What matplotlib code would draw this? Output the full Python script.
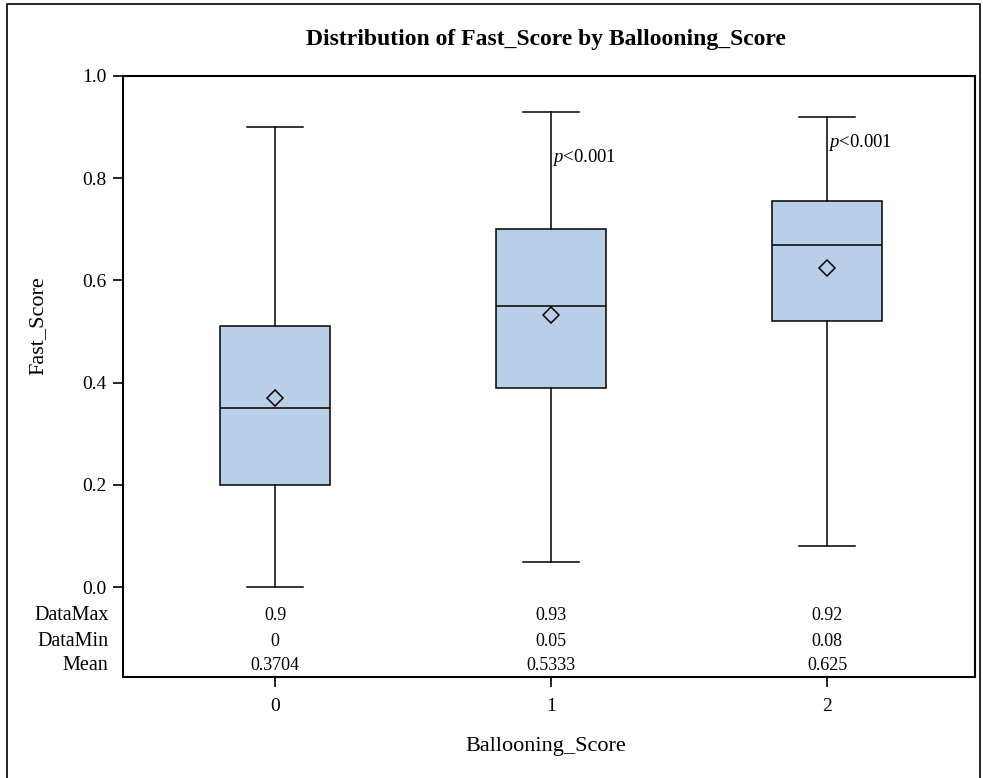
import matplotlib.pyplot as plt
import matplotlib.patches as patches

plt.rcParams['font.family'] = ['Liberation Serif', 'DejaVu Serif']
plt.rcParams['mathtext.fontset'] = 'custom'
plt.rcParams['mathtext.it'] = 'Liberation Serif:italic'
plt.rcParams['mathtext.rm'] = 'Liberation Serif'

groups = [0, 1, 2]
q1 = [0.20, 0.39, 0.52]
median = [0.35, 0.55, 0.67]
q3 = [0.51, 0.70, 0.755]
data_min = [0.0, 0.05, 0.08]
data_max = [0.90, 0.93, 0.92]
means = [0.3704, 0.5333, 0.625]
max_labels = ['0.9', '0.93', '0.92']
min_labels = ['0', '0.05', '0.08']
mean_labels = ['0.3704', '0.5333', '0.625']
p_labels = [None, '<0.001', '<0.001']
p_y = [None, 0.841, 0.869]

fig = plt.figure(figsize=(9.83, 7.78), dpi=100)
ax = fig.add_axes([123/983, 1-677/778, (975-123)/983, (677-76)/778])

stats = []
for i in range(len(groups)):
    stats.append({'med': median[i], 'q1': q1[i], 'q3': q3[i],
                  'whislo': data_min[i], 'whishi': data_max[i],
                  'mean': means[i], 'fliers': []})

ax.bxp(stats, positions=groups, widths=0.4, patch_artist=True, showmeans=True,
       boxprops=dict(facecolor='#b9cfe7', edgecolor='black', linewidth=1.1),
       medianprops=dict(color='black', linewidth=1.1),
       whiskerprops=dict(color='black', linewidth=1.1),
       capprops=dict(color='black', linewidth=1.1),
       capwidths=0.2,
       meanprops=dict(marker='D', markerfacecolor='none', markeredgecolor='black',
                      markersize=8.5, markeredgewidth=1.1))

# stats table rows inside the plot
rows = ['DataMax', 'DataMin', 'Mean']
row_y = [-0.055, -0.106, -0.154]
row_vals = [max_labels, min_labels, mean_labels]

for i, g in enumerate(groups):
    if p_labels[i]:
        ax.text(g + 0.005, p_y[i], r'$\it{p}$' + p_labels[i], fontsize=13.5,
                ha='left', va='center')
    for vals, yy in zip(row_vals, row_y):
        ax.text(g, yy, vals[i], ha='center', va='center', fontsize=13)

for lab, yy in zip(rows, row_y):
    ax.text(-0.603, yy, lab, ha='right', va='center', fontsize=14.5, clip_on=False)

ax.set_xlim(-0.551, 2.536)
ax.set_ylim(-0.176, 1.0)
ax.set_yticks([0.0, 0.2, 0.4, 0.6, 0.8, 1.0])
ax.set_yticklabels(['0.0', '0.2', '0.4', '0.6', '0.8', '1.0'])
ax.set_xticks(groups)
ax.set_xticklabels(['0', '1', '2'])
ax.tick_params(axis='y', labelsize=14, length=7, width=1.2, pad=5)
ax.tick_params(axis='x', labelsize=14, length=7, width=1.2, pad=8)
for s in ax.spines.values():
    s.set_linewidth(1.5)

ax.set_ylabel('Fast_Score', fontsize=16)
ax.yaxis.set_label_coords((38-123)/852, (677-326)/601)
ax.yaxis.label.set_va('center')
ax.set_xlabel('Ballooning_Score', fontsize=16)
ax.xaxis.set_label_coords((546-123)/852, (677-747)/601)
ax.xaxis.label.set_va('center')
fig.text(546/983, 1-40/778, 'Distribution of Fast_Score by Ballooning_Score',
         ha='center', va='center', fontsize=17, fontweight='bold')

# outer border
fig.patches.append(patches.Rectangle((7/983, -0.1), (980-7)/983, 1.1 - 4/778,
                                     transform=fig.transFigure, fill=False,
                                     edgecolor='black', linewidth=1.2))

fig.savefig('out.png', dpi=100)
